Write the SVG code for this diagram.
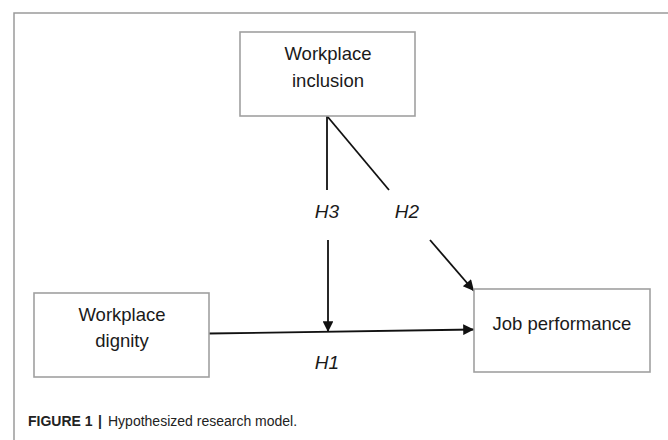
<svg xmlns="http://www.w3.org/2000/svg" width="668" height="440" viewBox="0 0 668 440">
<style>
.box{fill:#fff;stroke:#a0a0a0;stroke-width:1.6}
.lbl{font-family:"Liberation Sans",Arial,sans-serif;font-size:18.5px;fill:#1a1a1a;text-anchor:middle}
.h{font-family:"Liberation Sans",Arial,sans-serif;font-size:19px;font-style:italic;fill:#1a1a1a;text-anchor:middle}
.ln{stroke:#111;stroke-width:1.8;fill:none}
.cap{font-family:"Liberation Sans",Arial,sans-serif;font-size:14px;fill:#222}
</style>
<defs>
<marker id="ah" viewBox="0 0 10 10" refX="10" refY="5" markerWidth="7" markerHeight="6" markerUnits="strokeWidth" orient="auto">
<path d="M0,0 L10,5 L0,10 z" fill="#111"/>
</marker>
</defs>
<rect width="668" height="440" fill="#fff"/>
<path d="M14,440 L14,13 L668,13" fill="none" stroke="#9a9a9a" stroke-width="1.5"/>
<g id="connectors">
<line class="ln" x1="327" y1="116" x2="327" y2="190"/>
<line class="ln" x1="327" y1="116" x2="389" y2="190"/>
<line class="ln" x1="328" y1="240" x2="328" y2="332" marker-end="url(#ah)"/>
<line class="ln" x1="430" y1="240" x2="474" y2="291" marker-end="url(#ah)"/>
<line class="ln" x1="209" y1="333.5" x2="474" y2="329.5" marker-end="url(#ah)"/>
<text class="h" x="327" y="218">H3</text>
<text class="h" x="407" y="218">H2</text>
<text class="h" x="327" y="369">H1</text>
</g>
<g id="inclusion">
<rect class="box" x="240" y="32" width="175" height="84"/>
<text class="lbl" x="328" y="60">Workplace</text>
<text class="lbl" x="328" y="87">inclusion</text>
</g>
<g id="dignity">
<rect class="box" x="34" y="293" width="175" height="84"/>
<text class="lbl" x="122" y="321">Workplace</text>
<text class="lbl" x="122" y="347">dignity</text>
</g>
<g id="performance">
<rect class="box" x="474" y="289" width="176" height="83"/>
<text class="lbl" x="562" y="330">Job performance</text>
</g>
<g id="caption">
<text class="cap" x="28" y="426"><tspan font-weight="bold">FIGURE 1</tspan><tspan x="98" font-weight="bold">|</tspan><tspan x="108">Hypothesized research model.</tspan></text>
</g>
</svg>
